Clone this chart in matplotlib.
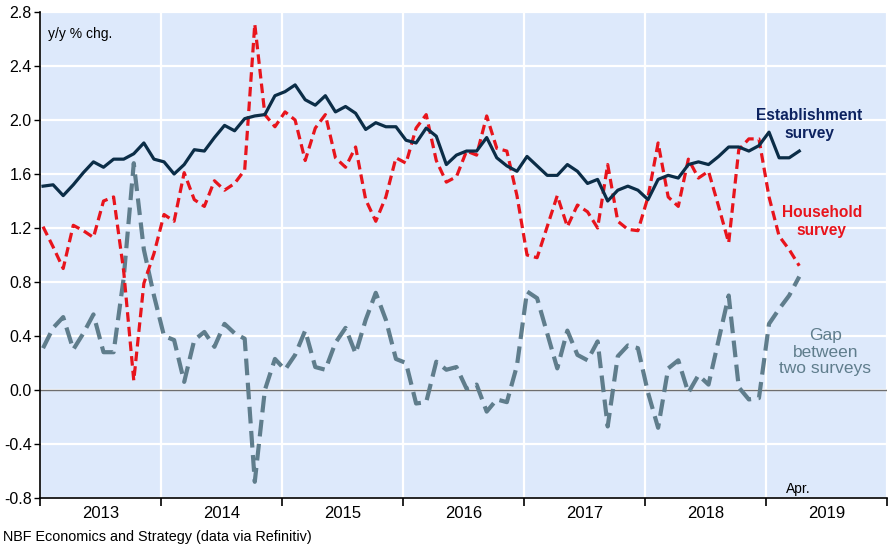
import numpy as np
import matplotlib
matplotlib.use("Agg")
from matplotlib import pyplot as plt
from matplotlib.ticker import FixedLocator, NullFormatter

plt.rcParams["font.family"] = ["Liberation Sans", "DejaVu Sans"]

# monthly, Jan 2013 .. Apr 2019, y/y % chg.
establishment = [
    1.51, 1.52, 1.44, 1.52, 1.61, 1.69, 1.65, 1.71, 1.71, 1.75, 1.83, 1.71,
    1.69, 1.60, 1.67, 1.78, 1.77, 1.87, 1.96, 1.92, 2.01, 2.03, 2.04, 2.18,
    2.21, 2.26, 2.15, 2.11, 2.18, 2.06, 2.10, 2.05, 1.93, 1.98, 1.95, 1.95,
    1.85, 1.83, 1.94, 1.88, 1.67, 1.74, 1.77, 1.77, 1.87, 1.72, 1.66, 1.62,
    1.73, 1.66, 1.59, 1.59, 1.67, 1.62, 1.53, 1.56, 1.40, 1.48, 1.51, 1.48,
    1.41, 1.56, 1.59, 1.57, 1.67, 1.69, 1.67, 1.73, 1.80, 1.80, 1.77, 1.81,
    1.91, 1.72, 1.72, 1.77,
]
household = [
    1.21, 1.06, 0.90, 1.22, 1.18, 1.13, 1.40, 1.43, 0.88, 0.07, 0.79, 1.01,
    1.30, 1.25, 1.61, 1.41, 1.36, 1.55, 1.48, 1.53, 1.63, 2.71, 2.04, 1.95,
    2.06, 2.00, 1.70, 1.94, 2.04, 1.72, 1.65, 1.80, 1.41, 1.25, 1.43, 1.72,
    1.68, 1.94, 2.04, 1.70, 1.54, 1.58, 1.77, 1.74, 2.03, 1.79, 1.77, 1.44,
    1.00, 0.98, 1.21, 1.44, 1.21, 1.37, 1.32, 1.20, 1.67, 1.25, 1.19, 1.18,
    1.43, 1.83, 1.43, 1.36, 1.71, 1.57, 1.62, 1.36, 1.09, 1.78, 1.86, 1.86,
    1.43, 1.14, 1.04, 0.92,
]
gap = [
    0.31, 0.46, 0.54, 0.30, 0.42, 0.56, 0.28, 0.28, 0.83, 1.68, 1.04, 0.70,
    0.40, 0.37, 0.06, 0.37, 0.43, 0.32, 0.49, 0.42, 0.38, -0.68, 0.00, 0.23,
    0.15, 0.26, 0.44, 0.17, 0.15, 0.35, 0.46, 0.27, 0.52, 0.72, 0.52, 0.23,
    0.20, -0.10, -0.09, 0.21, 0.15, 0.17, 0.01, 0.04, -0.16, -0.07, -0.09, 0.18,
    0.73, 0.68, 0.42, 0.16, 0.44, 0.26, 0.22, 0.36, -0.27, 0.25, 0.33, 0.31,
    -0.02, -0.28, 0.16, 0.22, -0.02, 0.11, 0.04, 0.37, 0.70, 0.02, -0.07, -0.06,
    0.49, 0.60, 0.70, 0.84,
]
years = list(range(2013, 2020))
y_ticks = [-0.8, -0.4, 0.0, 0.4, 0.8, 1.2, 1.6, 2.0, 2.4, 2.8]

months = np.arange(len(establishment))
x = 2013 + (months + 0.3) / 12

navy = "#0b2d47"
red = "#e8141c"
grey = "#5f7d8c"

fig = plt.figure(figsize=(8.94, 5.5), dpi=100)
ax = fig.add_axes([40 / 894, 1 - 498 / 550, 847 / 894, 486 / 550])
ax.set_facecolor("#dde9fb")

ax.plot(x, gap, color=grey, lw=3.0, dashes=(4, 1.8), zorder=3)
ax.plot(x, household, color=red, lw=2.3, dashes=(3, 1.6), zorder=4)
ax.plot(x, establishment, color=navy, lw=2.3, zorder=5)
ax.axhline(0, color="#6e6e6e", lw=1.0, zorder=2)

ax.set_xlim(2013, 2020)
ax.set_ylim(-0.8, 2.8)
ax.set_yticks(y_ticks)
ax.set_yticklabels([f"{v:.1f}" for v in y_ticks])

ax.xaxis.set_major_locator(FixedLocator(years + [2020]))
ax.xaxis.set_major_formatter(NullFormatter())
ax.xaxis.set_minor_locator(FixedLocator([yr + 0.5 for yr in years]))
ax.set_xticklabels([str(yr) for yr in years], minor=True)
ax.tick_params(axis="x", which="major", direction="out", length=6, width=1.2)
ax.tick_params(axis="x", which="minor", length=0, labelsize=12, pad=6)
ax.tick_params(axis="y", direction="out", length=4, width=1, labelsize=11.5, pad=2)

ax.grid(True, which="major", color="white", lw=1.6, zorder=1)
ax.set_axisbelow(True)
for side in ["top", "right"]:
    ax.spines[side].set_visible(False)
ax.spines["left"].set_linewidth(1.2)
ax.spines["bottom"].set_linewidth(1.2)

ax.text(0.01, 0.97, "y/y % chg.", transform=ax.transAxes, fontsize=10,
        va="top", ha="left")
ax.text(2019.36, 1.97, "Establishment\nsurvey", color="#0d2360", fontsize=11.2,
        fontweight="bold", ha="center", va="center", linespacing=1.25)
ax.text(2019.46, 1.245, "Household\nsurvey", color=red, fontsize=11.2,
        fontweight="bold", ha="center", va="center", linespacing=1.25)
ax.text(2019.49, 0.28, "Gap\nbetween\ntwo surveys", color=grey, fontsize=12.5,
        ha="center", va="center", linespacing=1.1)
ax.text(2019.27, -0.73, "Apr.", fontsize=10, ha="center", va="center")

fig.text(3 / 894, 1 - 537 / 550, "NBF Economics and Strategy (data via Refinitiv)",
         fontsize=10.4, ha="left", va="center")

fig.savefig("out.png", dpi=100)
